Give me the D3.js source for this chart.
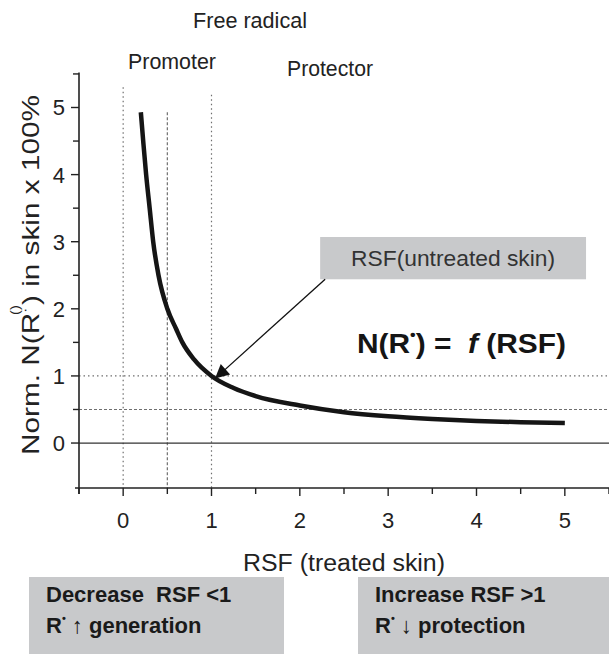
<!DOCTYPE html>
<html><head><meta charset="utf-8">
<script src="https://cdn.jsdelivr.net/npm/d3@7"></script>
<style>
html,body{margin:0;padding:0;background:#fff;}
svg{display:block;font-family:"Liberation Sans",Arial,Helvetica,sans-serif;}
text{white-space:pre;}
</style></head>
<body><div id="chart"></div>
<script>
// ---- data ----
const rsfValues = [0.2, 0.23, 0.26, 0.3, 0.34, 0.4, 0.5, 0.6, 0.67, 0.8, 1.0, 1.25, 1.5, 2.0, 2.5, 3.0, 3.5, 4.0, 4.5, 5.0];
const nValues   = [4.93, 4.45, 4.0, 3.5, 3.0, 2.5, 2.0, 1.7, 1.5, 1.25, 1.0, 0.82, 0.7, 0.56, 0.46, 0.4, 0.36, 0.33, 0.31, 0.3];
const xTickLabels = ["0", "1", "2", "3", "4", "5"];
const yTickLabels = ["0", "1", "2", "3", "4", "5"];
const verticalRefs = [0, 0.5, 1];
const verticalRefTops = [5.3, 4.93, 5.19];
const horizontalRefs = [1, 0.5];
const regionLabels = ["Free radical", "Promoter", "Protector"];

const W = 609, H = 654;
const svg = d3.select("#chart").append("svg").attr("width", W).attr("height", H);

const x = d3.scaleLinear().domain([-0.5, 5.5]).range([79, 609]);
const y = d3.scaleLinear().domain([-0.67, 5.52]).range([488, 72.6]);

const axisColor = "#222";
const gridColor = "#6f6f6f";
const yBottom = y.domain()[0];

// reference lines
svg.selectAll(".vref").data(verticalRefs).enter().append("line")
  .attr("x1", d => x(d)).attr("x2", d => x(d))
  .attr("y1", (d, i) => y(verticalRefTops[i])).attr("y2", y(yBottom))
  .attr("stroke", gridColor).attr("stroke-width", 1.2)
  .attr("stroke-dasharray", d => d === 0.5 ? "3,2" : "1.5,3");
svg.selectAll(".href").data(horizontalRefs).enter().append("line")
  .attr("x1", x(-0.5)).attr("x2", x(5.5))
  .attr("y1", d => y(d)).attr("y2", d => y(d))
  .attr("stroke", gridColor).attr("stroke-width", 1.2)
  .attr("stroke-dasharray", d => d === 0.5 ? "3,2" : "1.5,3");
// zero line
svg.append("line").attr("x1", x(-0.5)).attr("x2", x(5.5)).attr("y1", y(0)).attr("y2", y(0))
  .attr("stroke", "#333").attr("stroke-width", 1.2);

// y axis
const gy = svg.append("g").attr("transform", `translate(${x(-0.5)},0)`);
gy.append("line").attr("x1", 0).attr("x2", 0).attr("y1", y(5.52)).attr("y2", y(yBottom) + 6)
  .attr("stroke", axisColor).attr("stroke-width", 1.6);
gy.selectAll(".tk").data(d3.range(0, 5.51, 0.5)).enter().append("line")
  .attr("x1", 0).attr("x2", d => Number.isInteger(d) ? -8 : -6)
  .attr("y1", d => y(d)).attr("y2", d => y(d))
  .attr("stroke", axisColor).attr("stroke-width", 1.4);
gy.selectAll(".tl").data(yTickLabels).enter().append("text")
  .attr("x", -14).attr("y", d => y(+d)).attr("dy", "0.36em")
  .attr("text-anchor", "end").attr("font-size", 22).attr("fill", "#222").text(d => d);

// x axis
const gx = svg.append("g").attr("transform", `translate(0,${y(yBottom)})`);
gx.append("line").attr("x1", x(-0.5) - 4).attr("x2", x(5.5)).attr("y1", 0).attr("y2", 0)
  .attr("stroke", axisColor).attr("stroke-width", 1.6);
gx.selectAll(".tk").data(d3.range(-0.5, 5.51, 0.5)).enter().append("line")
  .attr("x1", d => x(d)).attr("x2", d => x(d))
  .attr("y1", 0).attr("y2", d => Number.isInteger(d) ? 8 : 6)
  .attr("stroke", axisColor).attr("stroke-width", 1.4);
gx.selectAll(".tl").data(xTickLabels).enter().append("text")
  .attr("x", d => x(+d)).attr("y", 40)
  .attr("text-anchor", "middle").attr("font-size", 22).attr("fill", "#222").text(d => d);

// axis titles
svg.append("text").attr("x", 344).attr("y", 571).attr("text-anchor", "middle")
  .attr("font-size", 23).attr("fill", "#222")
  .attr("textLength", 202).attr("lengthAdjust", "spacingAndGlyphs")
  .text("RSF (treated skin)");

const yl = svg.append("text").attr("transform", `translate(39,455) rotate(-90)`)
  .attr("font-size", 24).attr("fill", "#222")
  .attr("textLength", 360).attr("lengthAdjust", "spacingAndGlyphs");
yl.append("tspan").text("Norm. N(R");
yl.append("tspan").attr("font-size", 13).attr("dy", -10).text("·");
yl.append("tspan").attr("font-size", 12).attr("dx", -6).attr("dy", -10).text("()");
yl.append("tspan").attr("dy", 20).text(") in skin x 100%");

// curve
const pts = rsfValues.map((v, i) => [v, nValues[i]]);
svg.append("path").datum(pts)
  .attr("d", d3.line().x(d => x(d[0])).y(d => y(d[1])).curve(d3.curveMonotoneX))
  .attr("fill", "none").attr("stroke", "#151515").attr("stroke-width", 4.5)
  .attr("stroke-linecap", "butt");

// region labels
const regionPos = [[250, 28, 114], [172, 69, 88], [330, 76, 86]];
svg.selectAll(".rl").data(regionLabels).enter().append("text")
  .attr("x", (d, i) => regionPos[i][0]).attr("y", (d, i) => regionPos[i][1])
  .attr("text-anchor", "middle").attr("font-size", 22).attr("fill", "#222")
  .attr("textLength", (d, i) => regionPos[i][2]).attr("lengthAdjust", "spacingAndGlyphs")
  .text(d => d);

// RSF(untreated skin) box & arrow
const box = {x0: 2.23, x1: 5.24, y0: 3.07, y1: 2.44};
svg.append("rect").attr("x", x(box.x0)).attr("y", y(box.y0))
  .attr("width", x(box.x1) - x(box.x0)).attr("height", y(box.y1) - y(box.y0))
  .attr("fill", "#c8c9cb");
svg.append("text").attr("x", (x(box.x0) + x(box.x1)) / 2).attr("y", (y(box.y0) + y(box.y1)) / 2)
  .attr("dy", "0.36em").attr("text-anchor", "middle").attr("font-size", 22).attr("fill", "#333")
  .attr("textLength", 204).attr("lengthAdjust", "spacingAndGlyphs")
  .text("RSF(untreated skin)");

svg.append("defs").append("marker").attr("id", "ah").attr("viewBox", "0 0 10 10")
  .attr("refX", 10).attr("refY", 5).attr("markerWidth", 16).attr("markerHeight", 14)
  .attr("markerUnits", "userSpaceOnUse").attr("orient", "auto")
  .append("path").attr("d", "M0,0 L10,5 L0,10 z").attr("fill", "#111");
svg.append("line").attr("x1", x(box.x0) + 5).attr("y1", y(box.y1))
  .attr("x2", x(1.04)).attr("y2", y(0.96))
  .attr("stroke", "#111").attr("stroke-width", 1.3).attr("marker-end", "url(#ah)");

// formula
const f = svg.append("text").attr("x", 357).attr("y", 353).attr("font-size", 28)
  .attr("font-weight", "bold").attr("fill", "#151515")
  .attr("textLength", 209).attr("lengthAdjust", "spacingAndGlyphs");
f.append("tspan").text("N(R");
f.append("tspan").attr("font-size", 15).attr("dy", -13).text("•");
f.append("tspan").attr("dy", 13).text(") =  ");
f.append("tspan").attr("font-style", "italic").text("f");
f.append("tspan").text(" (RSF)");

// bottom boxes
const bottomBoxes = [
  {x: 29, w: 255, l1: "Decrease  RSF <1", arrow: "↑", l2: " generation"},
  {x: 358, w: 251, l1: "Increase RSF >1", arrow: "↓", l2: " protection"}
];
bottomBoxes.forEach(b => {
  svg.append("rect").attr("x", b.x).attr("y", 577).attr("width", b.w).attr("height", H - 577)
    .attr("fill", "#c8c9cb");
  svg.append("text").attr("x", b.x + 17).attr("y", 602).attr("font-size", 22)
    .attr("font-weight", "bold").attr("fill", "#1a1a1a").text(b.l1);
  const t = svg.append("text").attr("x", b.x + 17).attr("y", 633).attr("font-size", 22)
    .attr("font-weight", "bold").attr("fill", "#1a1a1a");
  t.append("tspan").text("R");
  t.append("tspan").attr("font-size", 11).attr("dy", -11).text("•");
  t.append("tspan").attr("dy", 11).attr("font-weight", "normal").text(" " + b.arrow);
  t.append("tspan").text(b.l2);
});
</script></body></html>
